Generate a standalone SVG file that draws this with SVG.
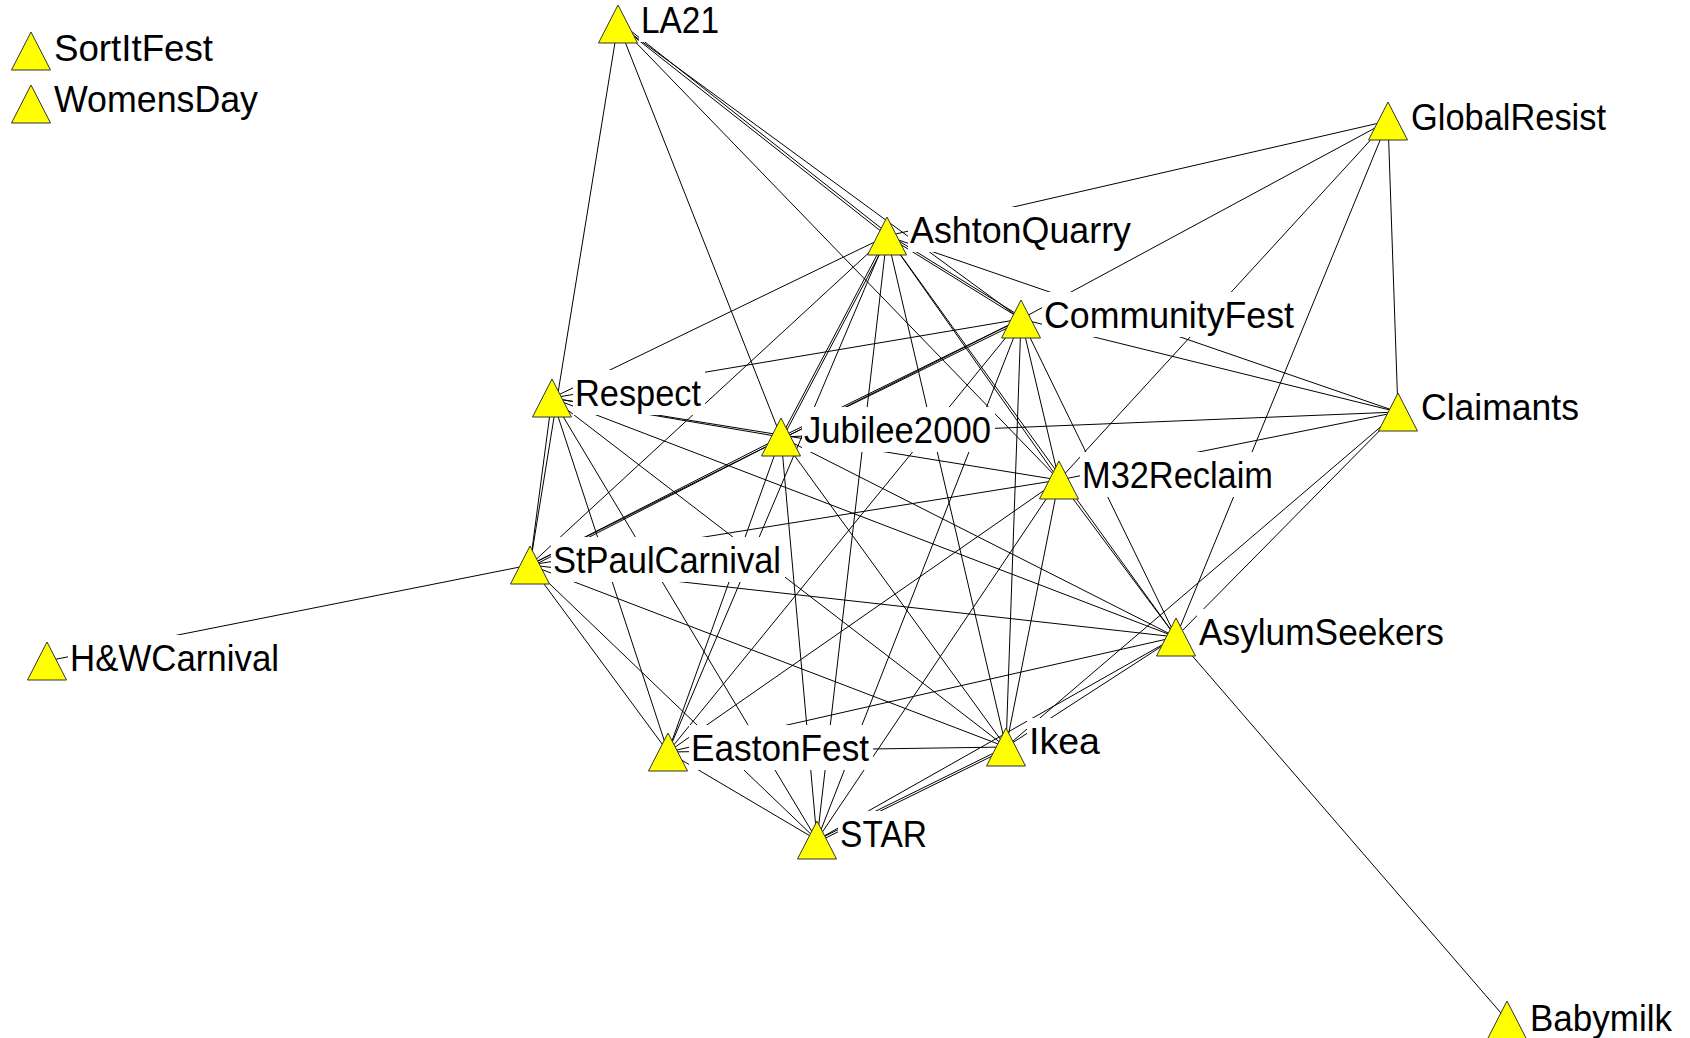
<svg xmlns="http://www.w3.org/2000/svg" width="1690" height="1038" viewBox="0 0 1690 1038">
<style>
.bg{fill:#fff}
.e line{stroke:#000;stroke-width:1}
.tri{fill:#ffff00;stroke:#333;stroke-width:1}
.lb{fill:#fff}
.t{font-family:"Liberation Sans",Arial,sans-serif;font-size:36px;fill:#000}
</style>
<rect class="bg" x="0" y="0" width="1690" height="1038"/>
<g id="connectors" class="e">
<line x1="618" y1="24" x2="530" y2="565"/>
<line x1="618" y1="24" x2="781" y2="437"/>
<line x1="618" y1="24" x2="887" y2="236"/>
<line x1="619.5" y1="22" x2="888.5" y2="234"/>
<line x1="618" y1="24" x2="1021" y2="319"/>
<line x1="618" y1="24" x2="1059" y2="480"/>
<line x1="1388" y1="121" x2="887" y2="236"/>
<line x1="1388" y1="121" x2="1021" y2="319"/>
<line x1="1388" y1="121" x2="1059" y2="480"/>
<line x1="1388" y1="121" x2="1176" y2="637"/>
<line x1="1388" y1="121" x2="1398" y2="412"/>
<line x1="1398" y1="412" x2="887" y2="236"/>
<line x1="1398" y1="412" x2="1021" y2="319"/>
<line x1="1398" y1="412" x2="781" y2="437"/>
<line x1="1398" y1="412" x2="1059" y2="480"/>
<line x1="1398" y1="412" x2="1176" y2="637"/>
<line x1="1398" y1="412" x2="1006" y2="747"/>
<line x1="887" y1="236" x2="552" y2="398"/>
<line x1="887" y1="236" x2="1021" y2="319"/>
<line x1="888" y1="234.3" x2="1022" y2="317.3"/>
<line x1="887" y1="236" x2="781" y2="437"/>
<line x1="888.8" y1="236.8" x2="782.8" y2="437.8"/>
<line x1="887" y1="236" x2="530" y2="565"/>
<line x1="887" y1="236" x2="1059" y2="480"/>
<line x1="887" y1="236" x2="1176" y2="637"/>
<line x1="887" y1="236" x2="1006" y2="747"/>
<line x1="887" y1="236" x2="668" y2="752"/>
<line x1="887" y1="236" x2="817" y2="840"/>
<line x1="1021" y1="319" x2="552" y2="398"/>
<line x1="1021" y1="319" x2="781" y2="437"/>
<line x1="1021.9" y1="320.8" x2="781.9" y2="438.8"/>
<line x1="1021" y1="319" x2="530" y2="565"/>
<line x1="1021" y1="319" x2="1059" y2="480"/>
<line x1="1021" y1="319" x2="1176" y2="637"/>
<line x1="1021" y1="319" x2="1006" y2="747"/>
<line x1="1021" y1="319" x2="817" y2="840"/>
<line x1="1021" y1="319" x2="668" y2="752"/>
<line x1="552" y1="398" x2="781" y2="437"/>
<line x1="552" y1="398" x2="1059" y2="480"/>
<line x1="552" y1="398" x2="1176" y2="637"/>
<line x1="552" y1="398" x2="530" y2="565"/>
<line x1="552" y1="398" x2="668" y2="752"/>
<line x1="552" y1="398" x2="817" y2="840"/>
<line x1="552" y1="398" x2="1006" y2="747"/>
<line x1="781" y1="437" x2="530" y2="565"/>
<line x1="781.9" y1="438.8" x2="530.9" y2="566.8"/>
<line x1="781" y1="437" x2="1176" y2="637"/>
<line x1="781" y1="437" x2="1006" y2="747"/>
<line x1="781" y1="437" x2="817" y2="840"/>
<line x1="781" y1="437" x2="668" y2="752"/>
<line x1="1059" y1="480" x2="530" y2="565"/>
<line x1="1059" y1="480" x2="1176" y2="637"/>
<line x1="1059" y1="480" x2="1006" y2="747"/>
<line x1="1059" y1="480" x2="817" y2="840"/>
<line x1="1059" y1="480" x2="668" y2="752"/>
<line x1="530" y1="565" x2="47" y2="661"/>
<line x1="530" y1="565" x2="1176" y2="637"/>
<line x1="530" y1="565" x2="1006" y2="747"/>
<line x1="530" y1="565" x2="668" y2="752"/>
<line x1="530" y1="565" x2="817" y2="840"/>
<line x1="1176" y1="637" x2="1507" y2="1020"/>
<line x1="1176" y1="637" x2="668" y2="752"/>
<line x1="1176" y1="637" x2="1006" y2="747"/>
<line x1="1176" y1="637" x2="817" y2="840"/>
<line x1="668" y1="752" x2="1006" y2="747"/>
<line x1="668" y1="752" x2="817" y2="840"/>
<line x1="1006" y1="747" x2="817" y2="840"/>
<line x1="1006.9" y1="748.8" x2="817.9" y2="841.8"/>
</g>
<g id="node-SortItFest"><rect class="lb" x="52" y="25" width="165" height="45"/><text class="t" x="54" y="61" textLength="159" lengthAdjust="spacingAndGlyphs">SortItFest</text><polygon class="tri" points="31,32 11.5,70 50.5,70"/></g>
<g id="node-WomensDay"><rect class="lb" x="52" y="76" width="210" height="45"/><text class="t" x="54" y="112" textLength="204" lengthAdjust="spacingAndGlyphs">WomensDay</text><polygon class="tri" points="31,85 11.5,123 50.5,123"/></g>
<g id="node-LA21"><rect class="lb" x="639" y="-3" width="84" height="45"/><text class="t" x="641" y="33" textLength="78" lengthAdjust="spacingAndGlyphs">LA21</text><polygon class="tri" points="618,5 598.5,43 637.5,43"/></g>
<g id="node-GlobalResist"><rect class="lb" x="1409" y="94" width="201" height="45"/><text class="t" x="1411" y="130" textLength="195" lengthAdjust="spacingAndGlyphs">GlobalResist</text><polygon class="tri" points="1388,102 1368.5,140 1407.5,140"/></g>
<g id="node-AshtonQuarry"><rect class="lb" x="908" y="207" width="227" height="45"/><text class="t" x="910" y="243" textLength="221" lengthAdjust="spacingAndGlyphs">AshtonQuarry</text><polygon class="tri" points="887,217 867.5,255 906.5,255"/></g>
<g id="node-CommunityFest"><rect class="lb" x="1042" y="292" width="256" height="45"/><text class="t" x="1044" y="328" textLength="250" lengthAdjust="spacingAndGlyphs">CommunityFest</text><polygon class="tri" points="1021,300 1001.5,338 1040.5,338"/></g>
<g id="node-Respect"><rect class="lb" x="573" y="370" width="132" height="45"/><text class="t" x="575" y="406" textLength="126" lengthAdjust="spacingAndGlyphs">Respect</text><polygon class="tri" points="552,379 532.5,417 571.5,417"/></g>
<g id="node-Jubilee2000"><rect class="lb" x="802" y="407" width="193" height="45"/><text class="t" x="804" y="443" textLength="187" lengthAdjust="spacingAndGlyphs">Jubilee2000</text><polygon class="tri" points="781,418 761.5,456 800.5,456"/></g>
<g id="node-Claimants"><rect class="lb" x="1419" y="384" width="164" height="45"/><text class="t" x="1421" y="420" textLength="158" lengthAdjust="spacingAndGlyphs">Claimants</text><polygon class="tri" points="1398,393 1378.5,431 1417.5,431"/></g>
<g id="node-M32Reclaim"><rect class="lb" x="1080" y="452" width="197" height="45"/><text class="t" x="1082" y="488" textLength="191" lengthAdjust="spacingAndGlyphs">M32Reclaim</text><polygon class="tri" points="1059,461 1039.5,499 1078.5,499"/></g>
<g id="node-StPaulCarnival"><rect class="lb" x="551" y="537" width="234" height="45"/><text class="t" x="553" y="573" textLength="228" lengthAdjust="spacingAndGlyphs">StPaulCarnival</text><polygon class="tri" points="530,546 510.5,584 549.5,584"/></g>
<g id="node-HWCarnival"><rect class="lb" x="68" y="635" width="215" height="45"/><text class="t" x="70" y="671" textLength="209" lengthAdjust="spacingAndGlyphs">H&amp;WCarnival</text><polygon class="tri" points="47,642 27.5,680 66.5,680"/></g>
<g id="node-AsylumSeekers"><rect class="lb" x="1197" y="609" width="251" height="45"/><text class="t" x="1199" y="645" textLength="245" lengthAdjust="spacingAndGlyphs">AsylumSeekers</text><polygon class="tri" points="1176,618 1156.5,656 1195.5,656"/></g>
<g id="node-EastonFest"><rect class="lb" x="689" y="725" width="184" height="45"/><text class="t" x="691" y="761" textLength="178" lengthAdjust="spacingAndGlyphs">EastonFest</text><polygon class="tri" points="668,733 648.5,771 687.5,771"/></g>
<g id="node-Ikea"><rect class="lb" x="1027" y="718" width="77" height="45"/><text class="t" x="1029" y="754" textLength="71" lengthAdjust="spacingAndGlyphs">Ikea</text><polygon class="tri" points="1006,728 986.5,766 1025.5,766"/></g>
<g id="node-STAR"><rect class="lb" x="838" y="811" width="93" height="45"/><text class="t" x="840" y="847" textLength="87" lengthAdjust="spacingAndGlyphs">STAR</text><polygon class="tri" points="817,821 797.5,859 836.5,859"/></g>
<g id="node-Babymilk"><rect class="lb" x="1528" y="995" width="148" height="45"/><text class="t" x="1530" y="1031" textLength="142" lengthAdjust="spacingAndGlyphs">Babymilk</text><polygon class="tri" points="1507,1001 1487.5,1039 1526.5,1039"/></g>
</svg>
